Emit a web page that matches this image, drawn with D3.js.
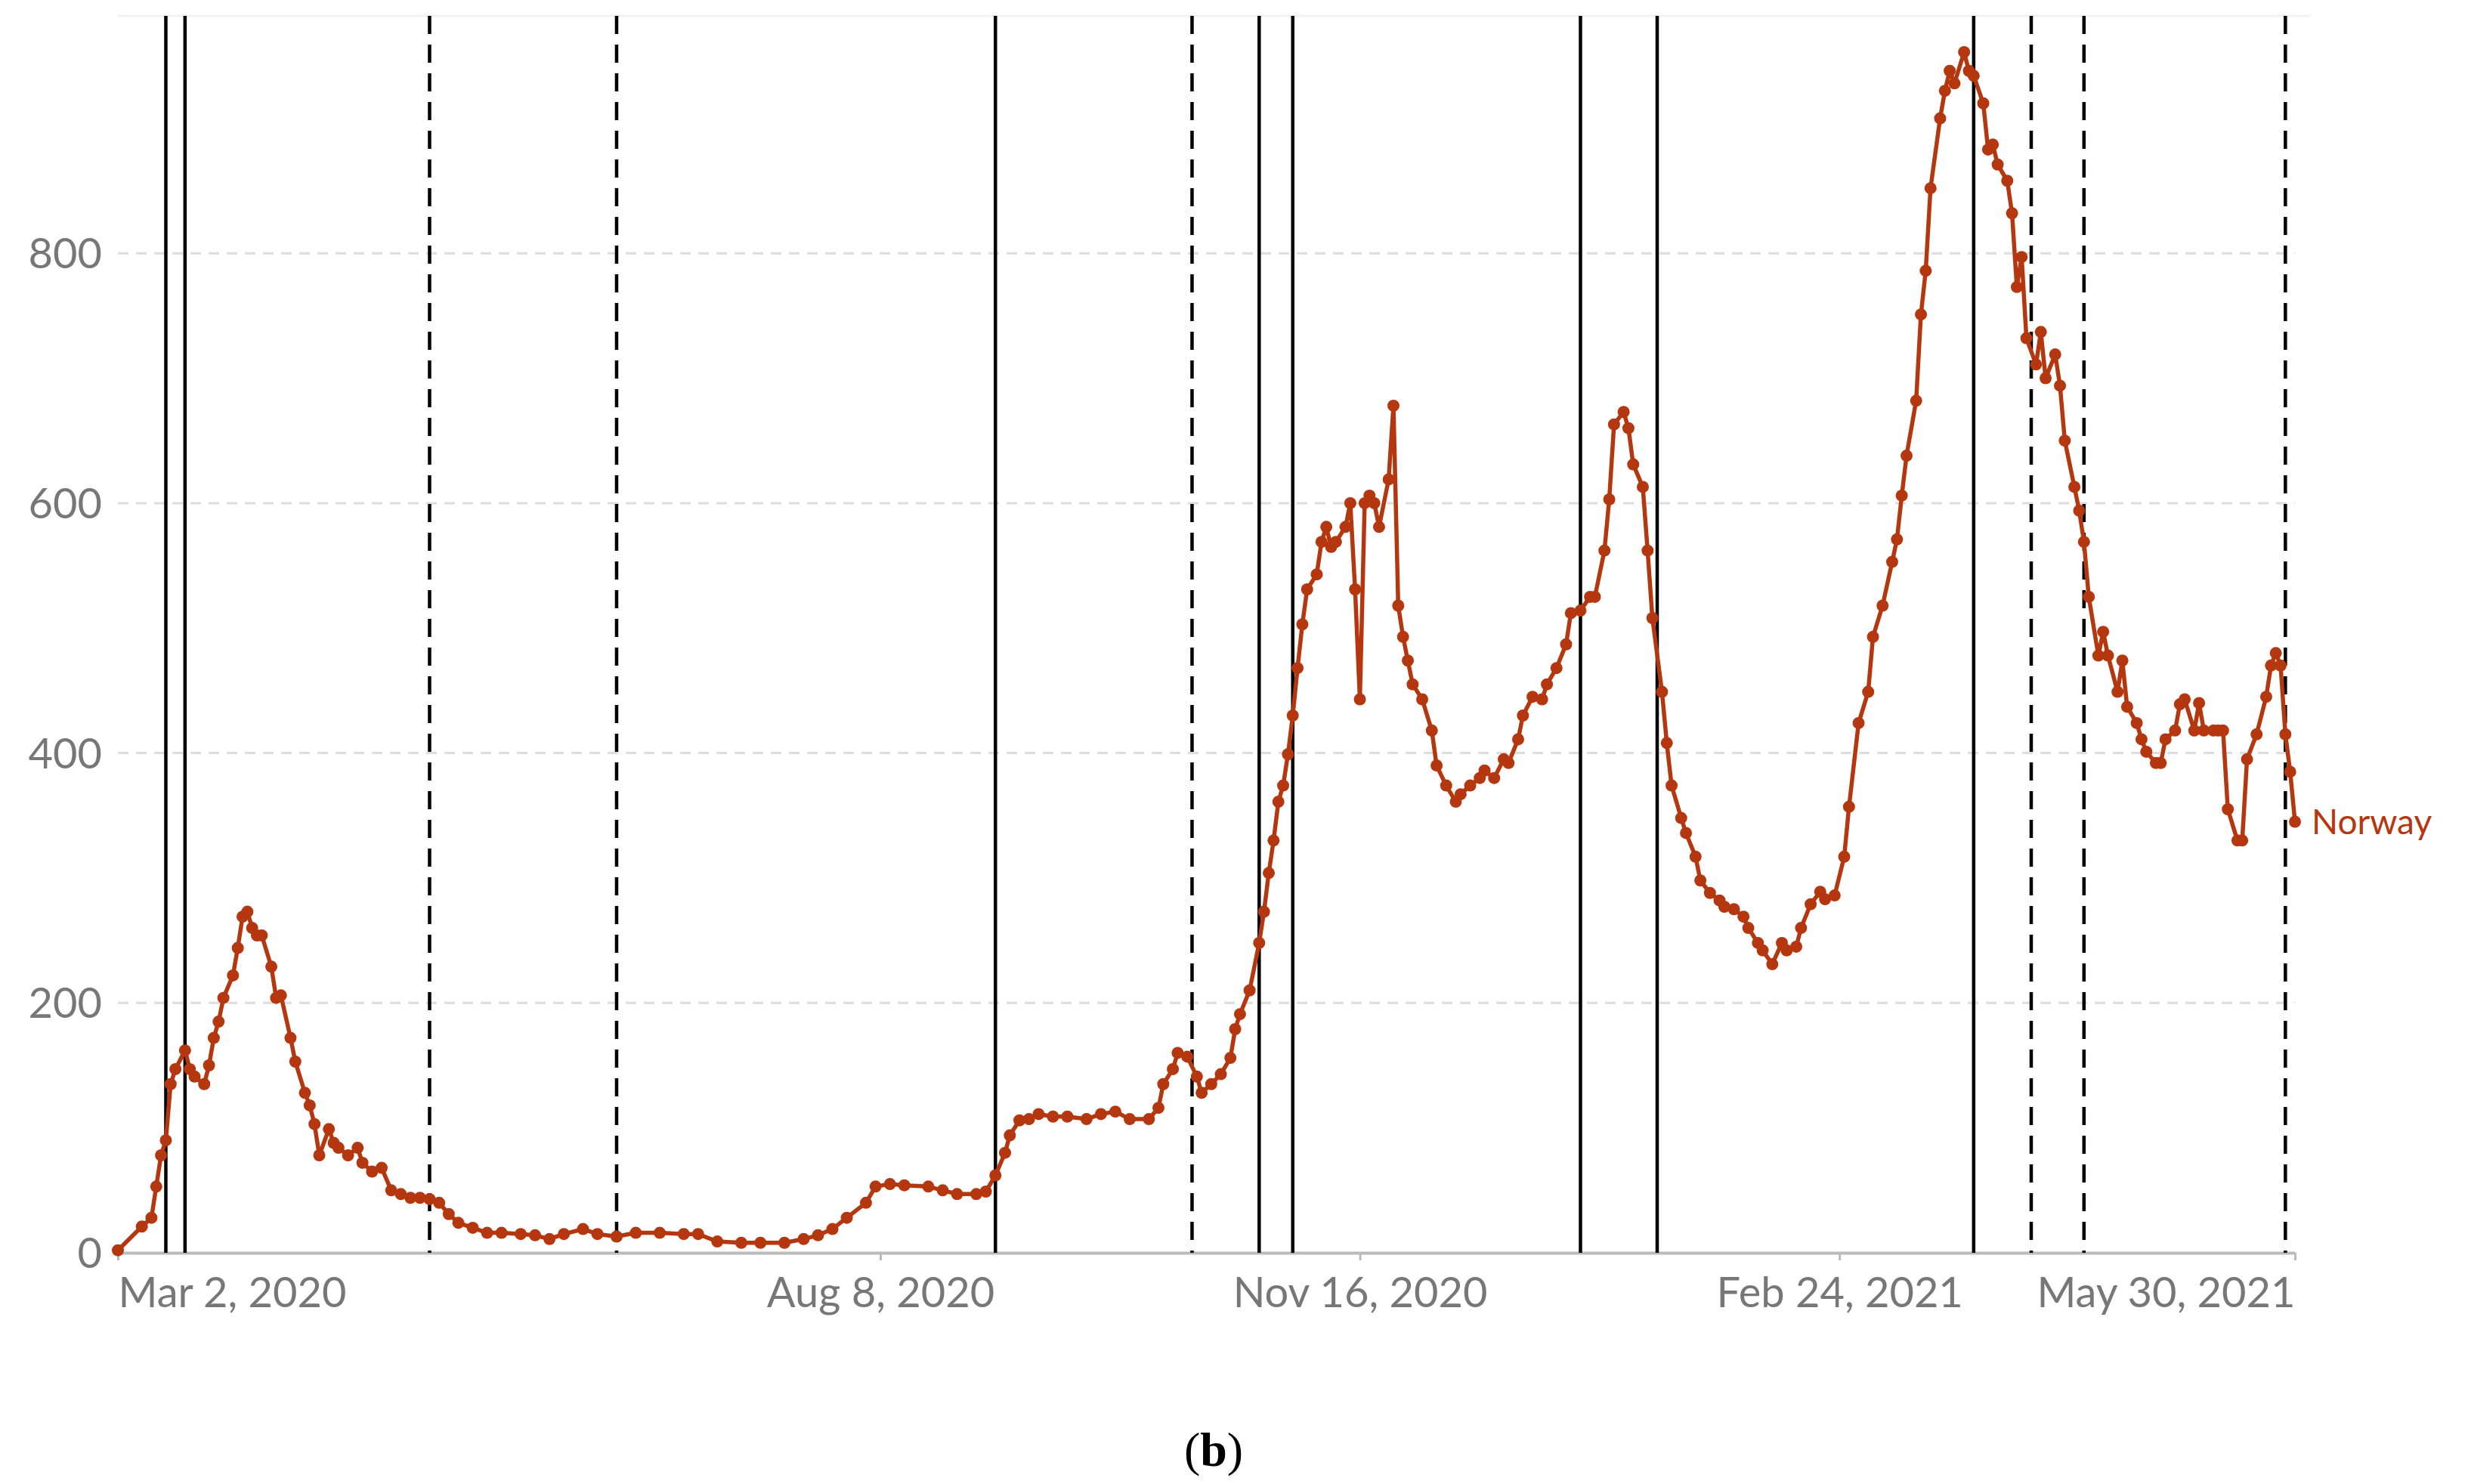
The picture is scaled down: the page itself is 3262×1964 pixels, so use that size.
<!DOCTYPE html>
<html><head><meta charset="utf-8">
<script src="https://cdn.jsdelivr.net/npm/d3@7"></script>
<style>body{margin:0;background:#fff}svg{display:block}</style>
</head><body>
<svg id="c" width="3262" height="1964"></svg>
<script>
// day offsets from Mar 2, 2020 and values (rows of ten, aligned)
const dayIndex = [
0,5,7,8,9,10,11,12,14,15,
16,18,19,20,21,22,24,25,26,27,
28,29,30,32,33,34,36,37,39,40,
41,42,44,45,46,48,50,51,53,55,
57,59,61,63,65,67,69,71,74,77,
80,84,87,90,93,97,100,104,108,113,
118,121,125,130,134,139,143,146,149,152,
156,158,161,164,169,172,175,179,181,183,
185,186,188,190,192,195,198,202,205,208,
211,215,217,218,220,221,223,225,226,228,
230,232,233,234,236,238,239,240,241,242,
243,244,245,246,247,248,250,251,252,253,
254,256,257,258,259,260,261,262,263,265,
266,267,268,269,270,272,274,275,277,279,
280,282,284,285,287,289,290,292,293,295,
297,298,300,302,303,305,307,308,310,311,
312,314,315,316,318,319,320,322,323,324,
326,327,329,330,332,334,335,337,339,340,
342,343,345,347,348,350,351,353,355,356,
358,360,361,363,365,366,368,370,371,372,
373,375,376,377,378,380,381,382,383,385,
386,387,389,390,391,392,394,395,396,397,
398,400,401,402,404,405,406,408,409,410,
411,413,414,415,417,418,419,421,422,423,
425,426,427,429,430,431,433,434,435,437,
438,439,440,442,443,444,446,448,449,450,
451,452,453,454];
const values = [
2,21,28,53,78,90,135,147,162,147,
141,135,150,172,185,204,222,244,269,273,
260,254,254,229,204,206,172,153,128,118,
103,78,99,88,84,78,84,72,65,68,
50,47,44,44,43,40,31,24,20,16,
16,15,14,11,15,19,15,13,16,16,
15,15,9,8,8,8,11,14,19,28,
40,53,55,54,53,50,47,47,49,62,
80,94,106,107,111,109,109,107,111,113,
107,107,116,135,147,160,157,141,128,135,
143,156,179,191,210,248,273,304,330,361,
374,399,430,468,503,531,543,569,581,565,
569,581,600,531,443,600,606,600,581,619,
678,518,493,474,455,443,418,390,374,361,
367,374,380,386,380,395,392,411,430,445,
443,455,468,487,512,514,525,525,562,603,
663,673,660,631,613,562,508,449,408,374,
348,336,317,298,288,282,277,275,269,260,
248,242,231,248,242,245,260,279,289,283,
286,317,357,424,449,493,518,553,571,606,
638,682,751,786,852,908,930,946,936,961,
946,942,920,883,887,871,858,832,773,797,
732,711,737,700,719,694,650,613,594,569,
525,478,497,478,449,474,437,424,411,401,
392,392,411,418,439,443,418,440,418,418,
418,418,355,330,330,395,415,445,470,480,
470,415,385,345];
const solidLines = [10,14,183,238,245,305,321,387];
const dashedLines = [65,104,224,399,410,452];
const yTicks = [0,200,400,600,800];
const xTickDates = ["2020-03-02","2020-08-08","2020-11-16","2021-02-24","2021-05-30"];
const xTickLabels = ["Mar 2, 2020","Aug 8, 2020","Nov 16, 2020","Feb 24, 2021","May 30, 2021"];
const seriesName = "Norway";

const start = new Date(2020,2,2);
const dayToDate = d => new Date(2020,2,2+d);
const svg = d3.select("#c");
const L=156,R=3037,T=21,B=1658;
const x = d3.scaleTime().domain([start,new Date(2021,4,30)]).range([L,R]);
const y = d3.scaleLinear().domain([0,990]).range([B,T]);
const col="#b5370f", font="Lato, 'Open Sans', sans-serif";

svg.append("g").selectAll("line").data(yTicks.filter(v=>v>0)).join("line")
 .attr("x1",L).attr("x2",R).attr("y1",d=>y(d)).attr("y2",d=>y(d))
 .attr("stroke","#ddd").attr("stroke-width",3).attr("stroke-dasharray","14,10");
svg.append("line").attr("x1",L).attr("x2",R+20).attr("y1",T).attr("y2",T).attr("stroke","#f2f2f2").attr("stroke-width",3);
svg.append("g").selectAll("text").data(yTicks).join("text")
 .attr("x",135).attr("y",d=>y(d)).attr("dy","0.36em").attr("text-anchor","end")
 .attr("font-family",font).attr("font-size",56).attr("fill","#777").text(d=>d);
const xa = svg.append("g").attr("transform",`translate(0,${B})`)
 .call(d3.axisBottom(x).tickValues(xTickDates.map(s=>new Date(s+"T00:00"))).tickFormat((d,i)=>xTickLabels[i]).tickSize(10).tickSizeOuter(0));
xa.select(".domain").attr("stroke","#bbb").attr("stroke-width",4);
xa.selectAll(".tick line").attr("stroke","#bbb").attr("stroke-width",3);
xa.selectAll("text").attr("font-family",font).attr("font-size",56).attr("fill","#777").attr("dy","1.05em")
 .attr("text-anchor",(d,i)=>i===0?"start":i===xTickLabels.length-1?"end":"middle");

svg.append("g").selectAll("line").data(solidLines).join("line")
 .attr("x1",d=>x(dayToDate(d))).attr("x2",d=>x(dayToDate(d))).attr("y1",T).attr("y2",B)
 .attr("stroke","#000").attr("stroke-width",4.5);
svg.append("g").selectAll("line").data(dashedLines).join("line")
 .attr("x1",d=>x(dayToDate(d))).attr("x2",d=>x(dayToDate(d))).attr("y1",T).attr("y2",B)
 .attr("stroke","#000").attr("stroke-width",4.5).attr("stroke-dasharray","24,14");

const data = dayIndex.map((d,i)=>({date:dayToDate(d),v:values[i]}));
svg.append("path").datum(data).attr("fill","none").attr("stroke",col).attr("stroke-width",5.5)
 .attr("stroke-linejoin","round").attr("d",d3.line().x(d=>x(d.date)).y(d=>y(d.v)));
svg.append("g").selectAll("circle").data(data).join("circle")
 .attr("cx",d=>x(d.date)).attr("cy",d=>y(d.v)).attr("r",8).attr("fill",col);
const last=data[data.length-1];
svg.append("text").attr("x",x(last.date)+22).attr("y",y(last.v)).attr("dy","0.36em")
 .attr("font-family",font).attr("font-size",46).attr("fill",col).text(seriesName);

svg.append("text").attr("x",1606).attr("y",1918).attr("dy","0.35em").attr("text-anchor","middle")
 .attr("font-family","'Liberation Serif', serif").attr("font-size",64).attr("fill","#000")
 .html('(<tspan font-weight="bold">b</tspan>)');
</script>
</body></html>
